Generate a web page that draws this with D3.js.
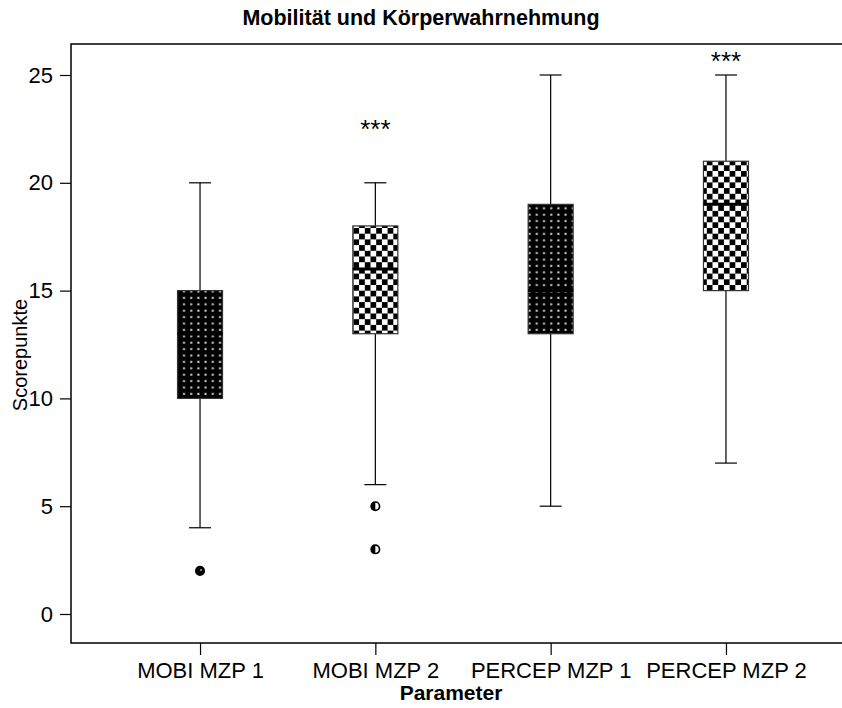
<!DOCTYPE html>
<html>
<head>
<meta charset="utf-8">
<script src="https://cdn.jsdelivr.net/npm/d3@7/dist/d3.min.js"></script>
<style>
  html, body { margin: 0; padding: 0; background: #fff; }
  svg { display: block; font-family: "Liberation Sans", Arial, sans-serif; }
</style>
</head>
<body>
<svg id="chart" width="842" height="708"></svg>
<script>
// Categories and box-plot statistics (Scorepunkte)
const categories = ["MOBI MZP 1", "MOBI MZP 2", "PERCEP MZP 1", "PERCEP MZP 2"];
const whiskerLow  = [4, 6, 5, 7];
const q1          = [10, 13, 13, 15];
const median      = [13, 16, 15, 19];
const q3          = [15, 18, 19, 21];
const whiskerHigh = [20, 20, 25, 25];
const outliers    = [[2], [5, 3], [], []];
const fillStyle   = ["dots", "checks", "dots", "checks"];
// significance markers: category and the score level they sit at
const sigCategories = ["MOBI MZP 2", "PERCEP MZP 2"];
const sigLevels     = [22.1, 25.25];
const sigLabels     = ["***", "***"];
const yTicks = [0, 5, 10, 15, 20, 25];

const svg = d3.select("#chart");
const margin = { left: 71, top: 44, bottom: 643 };

const x = d3.scalePoint().domain(categories).range([margin.left, 855]).padding(0.736);
const y = d3.scaleLinear().domain([0, 25]).range([614, 75]);

// fill patterns
const defs = svg.append("defs");
const dots = defs.append("pattern").attr("id", "dots")
  .attr("patternUnits", "userSpaceOnUse").attr("width", 7.2).attr("height", 6.4);
dots.append("rect").attr("width", 7.2).attr("height", 6.4).attr("fill", "#000");
dots.append("rect").attr("x", 3).attr("y", 2.5).attr("width", 2).attr("height", 2).attr("fill", "#d8d8d8");

const cs = 5.7;
const checks = defs.append("pattern").attr("id", "checks")
  .attr("patternUnits", "userSpaceOnUse").attr("width", cs * 2).attr("height", cs * 2);
checks.append("rect").attr("width", cs * 2).attr("height", cs * 2).attr("fill", "#fff");
checks.append("rect").attr("width", cs).attr("height", cs).attr("fill", "#000");
checks.append("rect").attr("x", cs).attr("y", cs).attr("width", cs).attr("height", cs).attr("fill", "#000");

// frame
svg.append("path")
  .attr("d", `M855,${margin.top}H${margin.left}V${margin.bottom}H855`)
  .attr("fill", "none").attr("stroke", "#000").attr("stroke-width", 1.5);

// y axis ticks
const yAxis = svg.append("g").attr("transform", `translate(${margin.left},0)`)
  .call(d3.axisLeft(y).tickValues(yTicks).tickSize(11).tickPadding(7));
yAxis.select(".domain").remove();
yAxis.selectAll("text").attr("font-size", 22).attr("fill", "#000")
  .attr("font-family", "Liberation Sans, Arial, sans-serif");
yAxis.selectAll("line").attr("stroke", "#000").attr("stroke-width", 1.2);

// x axis ticks
const xAxis = svg.append("g").attr("transform", `translate(0,${margin.bottom})`)
  .call(d3.axisBottom(x).tickSize(12).tickPadding(7));
xAxis.select(".domain").remove();
xAxis.selectAll("text").attr("font-size", 22).attr("fill", "#000")
  .attr("font-family", "Liberation Sans, Arial, sans-serif");
xAxis.selectAll("line").attr("stroke", "#000").attr("stroke-width", 1.2);

// boxes
const boxW = 45, capW = 22;
const rows = categories.map((c, i) => ({
  c, lo: whiskerLow[i], q1: q1[i], med: median[i], q3: q3[i], hi: whiskerHigh[i],
  out: outliers[i], fill: fillStyle[i]
}));

const g = svg.append("g");
rows.forEach(d => {
  const cx = x(d.c);
  // whiskers
  g.append("line").attr("x1", cx).attr("x2", cx).attr("y1", y(d.hi)).attr("y2", y(d.q3))
    .attr("stroke", "#000").attr("stroke-width", 1.2);
  g.append("line").attr("x1", cx).attr("x2", cx).attr("y1", y(d.q1)).attr("y2", y(d.lo))
    .attr("stroke", "#000").attr("stroke-width", 1.2);
  [d.hi, d.lo].forEach(v => {
    g.append("line").attr("x1", cx - capW / 2).attr("x2", cx + capW / 2)
      .attr("y1", y(v)).attr("y2", y(v)).attr("stroke", "#000").attr("stroke-width", 1.2);
  });
  // box
  g.append("rect").attr("x", cx - boxW / 2).attr("y", y(d.q3))
    .attr("width", boxW).attr("height", y(d.q1) - y(d.q3))
    .attr("fill", `url(#${d.fill})`).attr("stroke", "#333").attr("stroke-width", 1.2);
  // median
  g.append("line").attr("x1", cx - boxW / 2).attr("x2", cx + boxW / 2)
    .attr("y1", y(d.med)).attr("y2", y(d.med))
    .attr("stroke", "#000").attr("stroke-width", 3);
  // outliers
  d.out.forEach(v => {
    const oy = y(v);
    g.append("circle").attr("cx", cx).attr("cy", oy).attr("r", 4.2)
      .attr("fill", d.fill === "dots" ? "#000" : "#fff").attr("stroke", "#000").attr("stroke-width", 1.7);
    if (d.fill === "checks") {
      g.append("path")
        .attr("d", `M${cx},${oy - 4.2}A4.2,4.2 0 0 0 ${cx},${oy + 4.2}Z`)
        .attr("fill", "#000");
    } else {
      g.append("circle").attr("cx", cx + 1).attr("cy", oy - 1).attr("r", 1).attr("fill", "#aaa");
    }
  });
});

// significance markers
sigCategories.forEach((c, i) => {
  svg.append("text").attr("x", x(c)).attr("y", y(sigLevels[i]))
    .attr("text-anchor", "middle").attr("font-size", 26).attr("fill", "#000")
    .text(sigLabels[i]);
});

// titles
svg.append("text").attr("x", 421).attr("y", 25).attr("text-anchor", "middle")
  .attr("font-size", 21.5).attr("font-weight", "bold").text("Mobilität und Körperwahrnehmung");
svg.append("text").attr("x", 451).attr("y", 700).attr("text-anchor", "middle")
  .attr("font-size", 21).attr("font-weight", "bold").text("Parameter");
svg.append("text").attr("transform", "translate(27,355) rotate(-90)").attr("text-anchor", "middle")
  .attr("font-size", 20).text("Scorepunkte");
</script>
</body>
</html>
